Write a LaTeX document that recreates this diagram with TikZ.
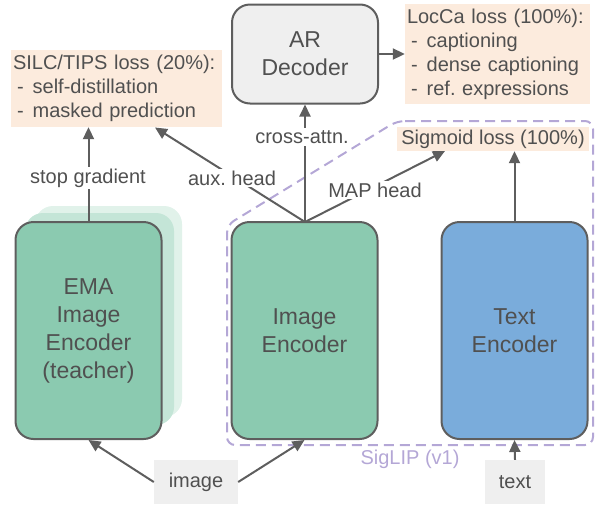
\documentclass[tikz,border=0pt]{standalone}
\usepackage{fontspec}
\setmainfont{Liberation Sans}
\usetikzlibrary{arrows.meta}
\definecolor{txt}{HTML}{505050}
\definecolor{edge}{HTML}{5E5E5E}
\definecolor{encgreen}{HTML}{8BCAB0}
\definecolor{encblue}{HTML}{7AACDB}
\definecolor{shadeA}{HTML}{C4E5D7}
\definecolor{shadeB}{HTML}{E1F2EA}
\definecolor{graybox}{HTML}{EFEFEF}
\definecolor{peach}{HTML}{FCEBDD}
\definecolor{lav}{HTML}{B4A7D6}
\tikzset{
  encbox/.style={draw=edge, line width=2pt, rounded corners=18pt, text=txt,
    minimum width=146pt, minimum height=217pt, align=center,
    font=\fontsize{23}{28}\selectfont},
  lossbox/.style={fill=peach, text=txt, inner sep=0pt, align=left,
    font=\fontsize{20}{24}\selectfont},
  inbox/.style={fill=graybox, text=txt, inner sep=0pt, font=\fontsize{20}{24}\selectfont},
  lbl/.style={fill=white, text=txt, inner sep=2pt, font=\fontsize{20}{24}\selectfont},
  conn/.style={draw=edge, line width=2pt, -{Triangle[length=12pt,width=11pt]}},
}
\begin{document}
\begin{tikzpicture}[x=1pt,y=-1pt]
\useasboundingbox (0,0) rectangle (596,504);

% SigLIP region
\draw[lav, line width=2pt, dash pattern=on 10pt off 6pt, rounded corners=8pt]
  (397,121) -- (593,121) -- (593,445) -- (227,445) -- (227,225) -- cycle;
\node[text=lav, font=\fontsize{20}{24}\selectfont] (siglip) at (410,459) {SigLIP (v1)};

% EMA shadow layers
\fill[shadeB, rounded corners=18pt] (35,206) rectangle (182,417);
\fill[shadeA, rounded corners=18pt] (25,213) rectangle (174,425);

% encoders
\node[encbox, fill=encgreen] (ema) at (88.5,330.5) {EMA\\Image\\Encoder\\(teacher)};
\node[encbox, fill=encgreen] (img) at (304.5,330.5) {Image\\Encoder};
\node[encbox, fill=encblue] (txtenc) at (514.5,330.5) {Text\\Encoder};

% AR decoder
\node[draw=edge, fill=graybox, line width=2pt, rounded corners=18pt, text=txt,
  minimum width=146pt, minimum height=99pt, align=center,
  font=\fontsize{23}{28}\selectfont] (ar) at (305,54) {AR\\Decoder};

% loss boxes
\node[lossbox, minimum width=211pt, minimum height=77pt, text width=207pt] (silc) at (116.5,88.5)
  {SILC/TIPS loss (20\%):\\\hspace{4pt}-\hspace{9pt}self-distillation\\\hspace{4pt}-\hspace{9pt}masked prediction};
\node[lossbox, minimum width=185pt, minimum height=100pt, text width=181pt] (locca) at (497.5,54)
  {LocCa loss (100\%):\\\hspace{4pt}-\hspace{9pt}captioning\\\hspace{4pt}-\hspace{9pt}dense captioning\\\hspace{4pt}-\hspace{9pt}ref.\ expressions};
\node[lossbox, minimum width=192pt, minimum height=24pt, align=center] (sig) at (493,139) {Sigmoid loss (100\%)};

% inputs
\node[inbox, minimum width=84pt, minimum height=44pt] (image) at (196,482) {image};
\node[inbox, minimum width=60pt, minimum height=44pt] (text) at (515,482) {text};

% connectors
\coordinate (imgtop) at (305,222);
\draw[conn] (ar.east) -- (locca.west);
\draw[conn] (ema.north) -- (ema.north |- silc.south);
\draw[conn] (imgtop) -- (155,127.5);
\draw[conn] (imgtop) -- (ar.south);
\draw[conn] (imgtop) -- (445,151);
\draw[conn] (txtenc.north) -- (txtenc.north |- sig.south);
\draw[conn] (image.west) -- (ema.south);
\draw[conn] (image.east) -- (img.south);
\draw[conn] (text.north) -- (txtenc.south);

% labels on connectors
\node[lbl] (stopg) at (88,178) {stop gradient};
\node[lbl] (auxh) at (232,178) {aux.\ head};
\node[lbl] (xattn) at (302,137) {cross-attn.};
\node[lbl] (maph) at (375,190) {MAP head};
\end{tikzpicture}
\end{document}
